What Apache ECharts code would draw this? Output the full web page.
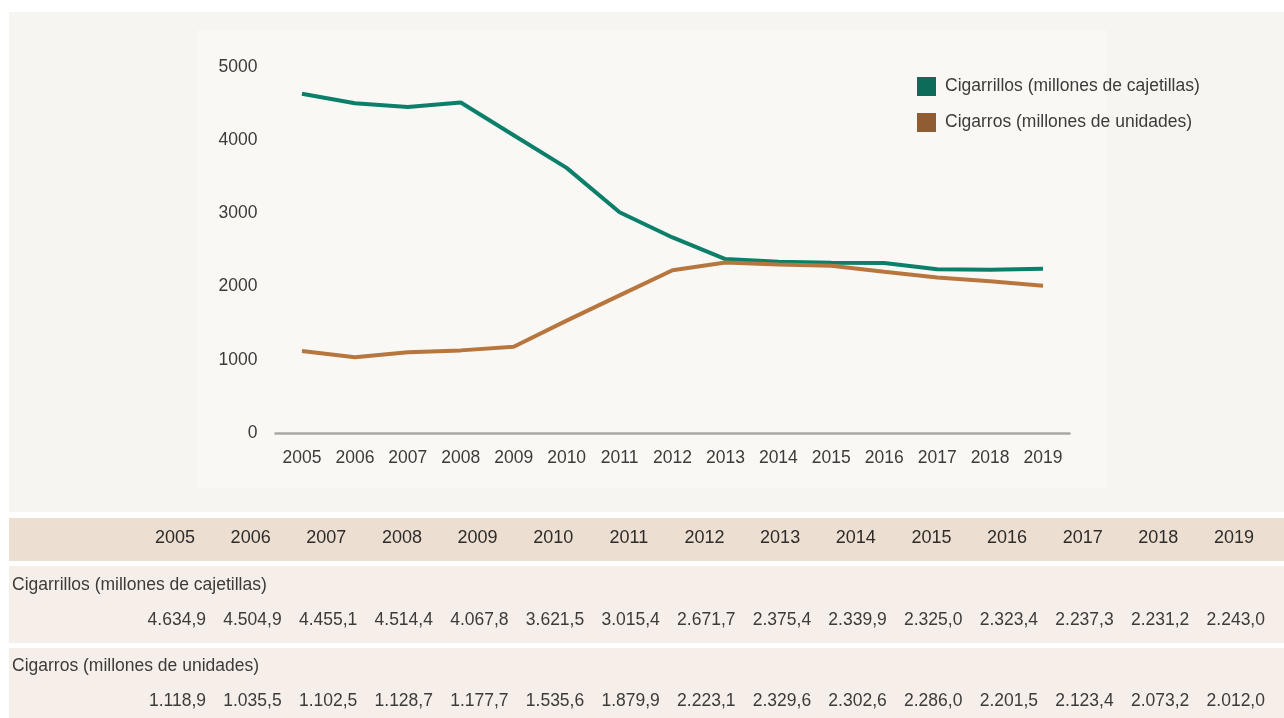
<!DOCTYPE html>
<html>
<head>
<meta charset="utf-8">
<script src="https://cdn.jsdelivr.net/npm/echarts@6/dist/echarts.min.js"></script>
<style>
  html, body { margin: 0; padding: 0; background: #fff; }
  #chart { width: 1284px; height: 718px; }
</style>
</head>
<body>
<div id="chart"></div>
<script>
const years = ["2005", "2006", "2007", "2008", "2009", "2010", "2011", "2012", "2013", "2014", "2015", "2016", "2017", "2018", "2019"];
const cigarrillos = [4634.9, 4504.9, 4455.1, 4514.4, 4067.8, 3621.5, 3015.4, 2671.7, 2375.4, 2339.9, 2325.0, 2323.4, 2237.3, 2231.2, 2243.0];
const cigarros = [1118.9, 1035.5, 1102.5, 1128.7, 1177.7, 1535.6, 1879.9, 2223.1, 2329.6, 2302.6, 2286.0, 2201.5, 2123.4, 2073.2, 2012.0];
const seriesNames = ["Cigarrillos (millones de cajetillas)", "Cigarros (millones de unidades)"];
const yTicks = [0, 1000, 2000, 3000, 4000, 5000];

const FONT = "Liberation Sans, Arial, sans-serif";
const TEXT = "#3d3b39";

// formato español: 4.634,9
function fmt(v) {
  const parts = v.toFixed(1).split(".");
  const ent = parts[0].replace(/\B(?=(\d{3})+(?!\d))/g, ".");
  return ent + "," + parts[1];
}

const chart = echarts.init(document.getElementById("chart"));

// fondos + tabla de abajo
const colStep = 75.64;
const tableGraphics = [
  { type: "rect", z: -10, shape: { x: 9, y: 12, width: 1275, height: 500 }, style: { fill: "#f6f5f1" } },
  { type: "rect", z: -9, shape: { x: 197, y: 30, width: 910, height: 458 }, style: { fill: "#f9f8f5" } },
  { type: "rect", z: -10, shape: { x: 9, y: 518, width: 1275, height: 43 }, style: { fill: "#ecdfd1" } },
  { type: "rect", z: -10, shape: { x: 9, y: 566, width: 1275, height: 77 }, style: { fill: "#f5eee9" } },
  { type: "rect", z: -10, shape: { x: 9, y: 648, width: 1275, height: 70 }, style: { fill: "#f5eee9" } },
  { type: "text", z: 10, x: 12, y: 585, style: { text: seriesNames[0], font: "17.5px " + FONT, fill: TEXT, verticalAlign: "middle" } },
  { type: "text", z: 10, x: 12, y: 666, style: { text: seriesNames[1], font: "17.5px " + FONT, fill: TEXT, verticalAlign: "middle" } }
];
years.forEach((y, i) => {
  tableGraphics.push({ type: "text", z: 10, x: 175 + i * colStep, y: 538, style: { text: y, font: "18px " + FONT, fill: "#2e2c2a", align: "center", verticalAlign: "middle" } });
  tableGraphics.push({ type: "text", z: 10, x: 206 + i * colStep, y: 620, style: { text: fmt(cigarrillos[i]), font: "17.5px " + FONT, fill: TEXT, align: "right", verticalAlign: "middle" } });
  tableGraphics.push({ type: "text", z: 10, x: 206 + i * colStep, y: 701, style: { text: fmt(cigarros[i]), font: "17.5px " + FONT, fill: TEXT, align: "right", verticalAlign: "middle" } });
});

const option = {
  backgroundColor: "#ffffff",
  textStyle: { fontFamily: FONT },
  animation: false,
  graphic: tableGraphics,
  grid: { left: 275.5, right: 214.5, top: 67, bottom: 285 },
  legend: {
    orient: "vertical",
    left: 912,
    top: 72,
    itemWidth: 19,
    itemHeight: 19,
    itemGap: 17,
    icon: "rect",
    textStyle: { fontSize: 17.5, color: TEXT, padding: [4, 0, 0, 4] },
    data: [
      { name: seriesNames[0], itemStyle: { color: "#0d6b59" } },
      { name: seriesNames[1], itemStyle: { color: "#905c34" } }
    ]
  },
  xAxis: {
    type: "category",
    data: years,
    boundaryGap: true,
    axisLine: { lineStyle: { color: "#aaa8a3", width: 2.5 } },
    axisTick: { show: false },
    axisLabel: { fontSize: 17.5, color: TEXT, margin: 16 }
  },
  yAxis: {
    type: "value",
    min: yTicks[0],
    max: yTicks[yTicks.length - 1],
    interval: 1000,
    splitLine: { show: false },
    axisLine: { show: false },
    axisTick: { show: false },
    axisLabel: { fontSize: 17.5, color: TEXT, margin: 18, formatter: v => String(v) }
  },
  series: [
    {
      name: seriesNames[0],
      type: "line",
      data: cigarrillos,
      symbol: "none",
      color: "#0b7f6a",
      lineStyle: { width: 4, color: "#0b7f6a" }
    },
    {
      name: seriesNames[1],
      type: "line",
      data: cigarros,
      symbol: "none",
      color: "#b8763f",
      lineStyle: { width: 4, color: "#b8763f" }
    }
  ]
};

chart.setOption(option);
</script>
</body>
</html>
